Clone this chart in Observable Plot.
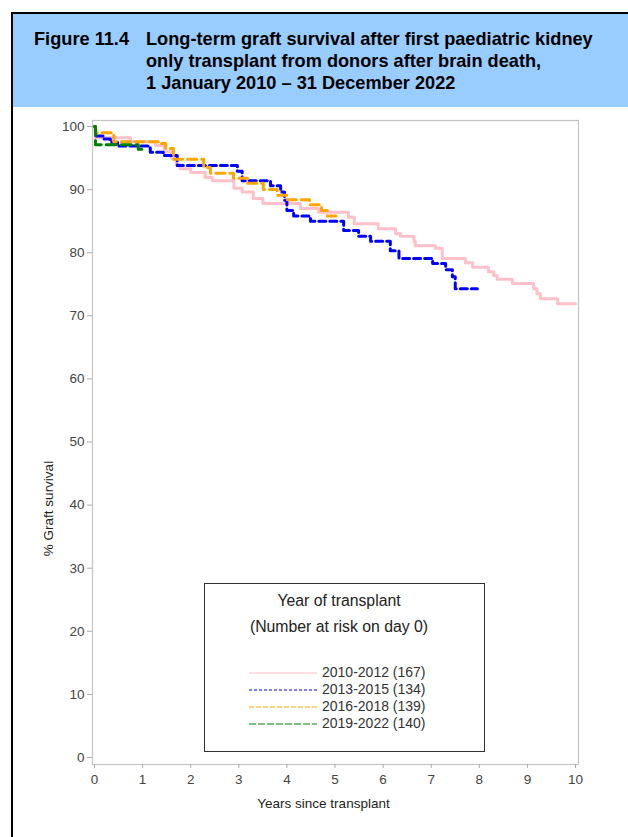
<!DOCTYPE html>
<html>
<head>
<meta charset="utf-8">
<script src="https://cdn.jsdelivr.net/npm/d3@7"></script>
<script src="https://cdn.jsdelivr.net/npm/@observablehq/plot@0.6"></script>
<style>
  html, body { margin: 0; padding: 0; background: #fff; }
  #page { position: relative; width: 628px; height: 837px; overflow: hidden; font-family: "Liberation Sans", Arial, sans-serif; }
  #header { position: absolute; left: 11px; top: 12px; width: 617px; height: 95px; background: #99CCFF; border-top: 2px solid #000; box-sizing: border-box; }
  #leftrule { position: absolute; left: 11px; top: 12px; width: 2px; height: 825px; background: #000; }
  .t { position: absolute; font-weight: bold; font-size: 18.2px; color: #000; white-space: nowrap; }
  #chart { position: absolute; left: 0; top: 107px; }
  #legend { position: absolute; left: 204px; top: 583px; width: 281px; height: 169px; border: 1px solid #333; box-sizing: border-box; background: #fff; color: #222; }
  .lt { position: absolute; left: 0; width: 268px; text-align: center; font-size: 15.8px; }
  .li { position: absolute; left: 44px; font-size: 14px; color: #333; white-space: nowrap; }
  .li svg { vertical-align: middle; margin-right: 5px; }
</style>
</head>
<body>
<div id="page">
  <div id="header"></div>
  <div id="leftrule"></div>
  <div class="t" style="left:34px; top:29px;">Figure 11.4</div>
  <div class="t" style="left:146px; top:29px;">Long-term graft survival after first paediatric kidney</div>
  <div class="t" style="left:146px; top:51px;">only transplant from donors after brain death,</div>
  <div class="t" style="left:146px; top:73px;">1 January 2010 – 31 December 2022</div>
  <div id="chart"></div>
  <div id="legend"></div>
</div>
<script>
// Tick labels
const xTicks = [0, 1, 2, 3, 4, 5, 6, 7, 8, 9, 10];
const yTicks = [0, 10, 20, 30, 40, 50, 60, 70, 80, 90, 100];

// Series names
const seriesNames = ["2010-2012 (167)", "2013-2015 (134)", "2016-2018 (139)", "2019-2022 (140)"];

// Kaplan-Meier step data: years since transplant / % graft survival
const t2010 = [0, 0.02, 0.75, 1.27, 1.45, 1.6, 1.7, 1.78, 2.0, 2.3, 2.45, 2.9, 3.07, 3.3, 3.5, 4.28, 4.66, 5.28, 5.4, 5.9, 6.26, 6.36, 6.64, 6.67, 7.09, 7.23, 7.71, 7.86, 8.19, 8.3, 8.37, 8.69, 9.13, 9.2, 9.27, 9.63, 10.0];
const s2010 = [100, 98.2, 97.6, 97.0, 96.0, 95.0, 94.0, 93.3, 92.7, 91.9, 91.4, 90.2, 89.6, 88.6, 87.8, 87.0, 86.4, 85.6, 84.6, 83.8, 83.0, 82.6, 81.8, 81.1, 80.7, 79.1, 78.4, 77.7, 77.0, 76.4, 75.8, 75.1, 74.3, 73.5, 72.7, 71.9, 71.9];

const t2013 = [0, 0.02, 0.2, 0.33, 0.48, 1.16, 1.43, 1.72, 2.97, 3.07, 3.66, 3.87, 3.95, 4.0, 4.14, 4.49, 5.18, 5.49, 5.74, 6.15, 6.33, 7.03, 7.3, 7.44, 7.5, 7.96];
const s2013 = [100, 98.5, 98.0, 97.5, 96.9, 95.9, 95.4, 93.8, 92.9, 91.4, 90.6, 89.6, 88.3, 86.7, 85.8, 85.0, 83.5, 82.6, 81.8, 80.3, 79.1, 78.3, 77.3, 76.2, 74.3, 74.3];

const t2016 = [0, 0.02, 0.4, 1.33, 1.48, 1.64, 2.27, 2.41, 2.89, 3.18, 3.51, 3.8, 4.0, 4.47, 4.72, 4.84, 5.02];
const s2016 = [100, 99.0, 97.6, 97.3, 96.5, 94.8, 93.5, 92.6, 91.8, 91.0, 90.0, 89.1, 88.4, 87.6, 86.7, 85.8, 85.8];

const t2019 = [0, 0.02, 0.91, 1.02];
const s2019 = [100, 97.1, 96.4, 96.4];

const colors = ["#FFC0CB", "#0000FF", "#FFA500", "#008000"];
const dashes = [null, "7,4", "9,5", "10,5"];
const legendDashes = [null, "3,2", "5,2", "7,2"];

const tables = [[t2010, s2010], [t2013, s2013], [t2016, s2016], [t2019, s2019]].map(([t, s], i) =>
  t.map((v, j) => ({t: v, s: s[j], group: seriesNames[i]}))
);

const lineMarks = tables.map((rows, i) => Plot.line(rows, {
  x: "t", y: "s", curve: "step-after",
  stroke: colors[i], strokeWidth: 3,
  strokeDasharray: dashes[i] || undefined
}));

const chart = Plot.plot({
  width: 628, height: 730,
  marginLeft: 92, marginRight: 50, marginTop: 13, marginBottom: 73,
  insetLeft: 2, insetRight: 3, insetTop: 6, insetBottom: 7,
  x: {domain: [0, 10]},
  y: {domain: [0, 100]},
  style: {fontFamily: "'Liberation Sans', Arial, sans-serif", fontSize: "13.5px", color: "#444", background: "transparent"},
  marks: [
    Plot.frame({stroke: "#c4c4c4", strokeWidth: 1.2}),
    Plot.axisX({ticks: xTicks, tickSize: 4, tickPadding: 6, stroke: "#aaa", fontSize: 13.5, label: null, fill: "#444"}),
    Plot.axisY({ticks: yTicks, tickSize: 5, tickPadding: 3, stroke: "#aaa", fontSize: 13.5, label: null, fill: "#444"}),
    Plot.text(["Years since transplant"], {frameAnchor: "bottom", dx: -12, dy: 39, fontSize: 13.5, fill: "#222", textAnchor: "middle", lineAnchor: "middle"}),
    Plot.text(["% Graft survival"], {frameAnchor: "left", rotate: -90, dx: -44, dy: 66, fontSize: 13.5, fill: "#222", textAnchor: "middle", lineAnchor: "middle"}),
    ...lineMarks
  ]
});
document.getElementById("chart").appendChild(chart);

// Legend
const leg = document.getElementById("legend");
const title1 = document.createElement("div");
title1.className = "lt"; title1.style.top = "8px"; title1.textContent = "Year of transplant";
const title2 = document.createElement("div");
title2.className = "lt"; title2.style.top = "34px"; title2.textContent = "(Number at risk on day 0)";
leg.appendChild(title1); leg.appendChild(title2);
seriesNames.forEach((name, i) => {
  const d = document.createElement("div");
  d.className = "li";
  d.style.top = (80 + i * 17) + "px";
  d.innerHTML = `<svg width="68" height="4"><line x1="0" y1="2" x2="68" y2="2" stroke="${colors[i]}" stroke-width="1" ${legendDashes[i] ? `stroke-dasharray="${legendDashes[i]}"` : ""}/></svg>${name}`;
  leg.appendChild(d);
});
</script>
</body>
</html>
